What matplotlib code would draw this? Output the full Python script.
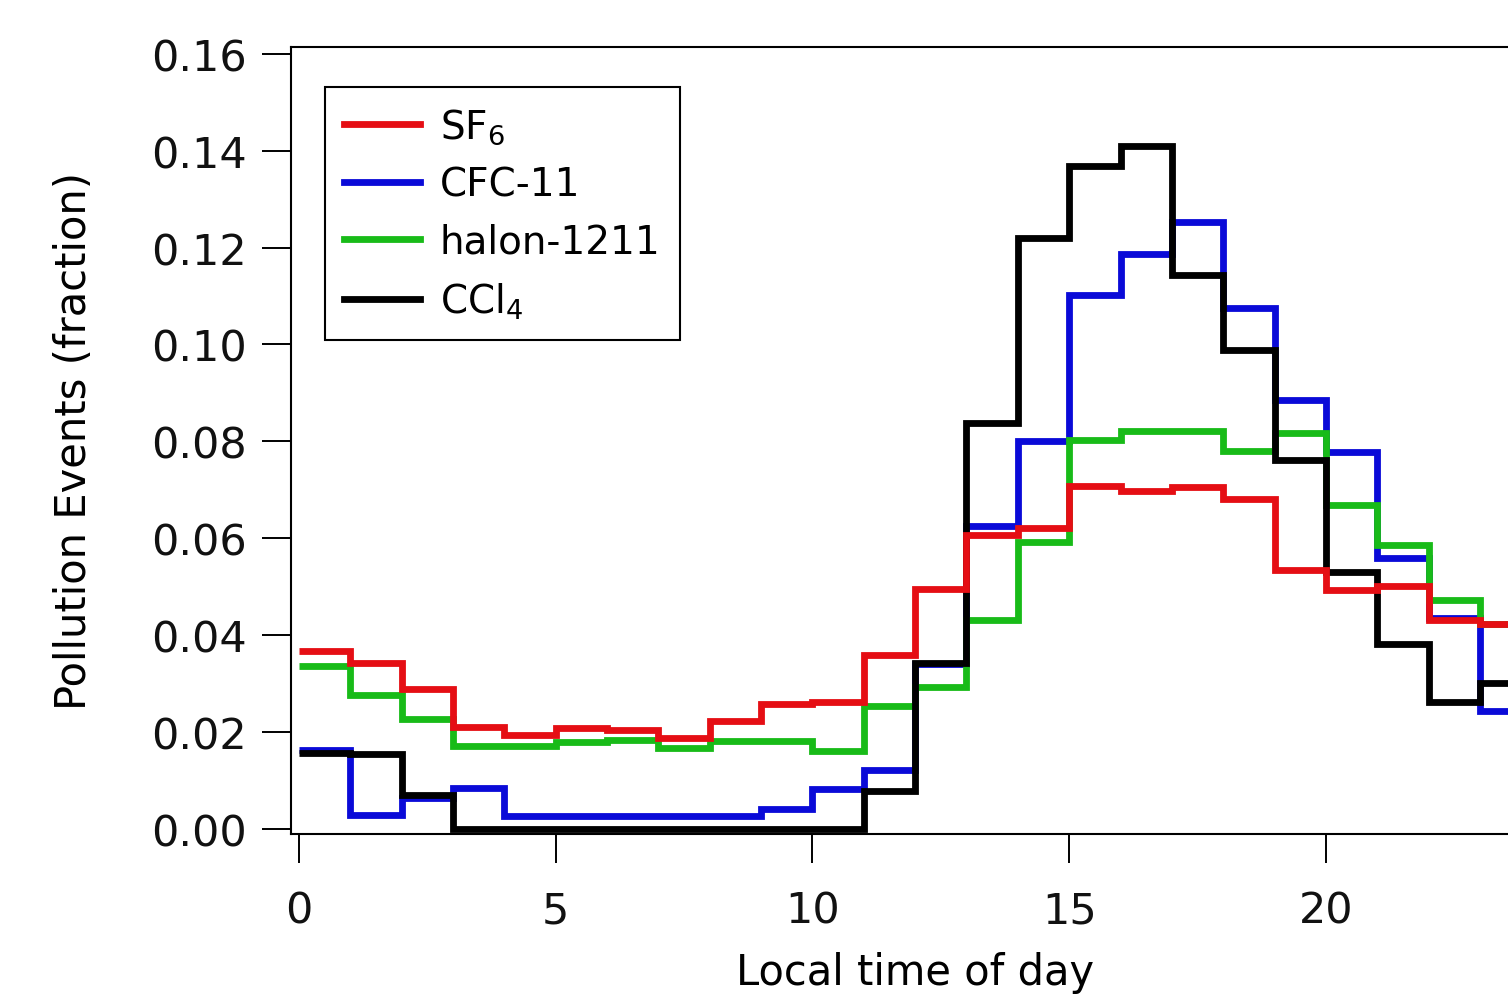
import matplotlib
matplotlib.use("Agg")
import matplotlib.pyplot as plt
import numpy as np
from matplotlib.lines import Line2D

hours = list(range(25))  # bin edges, local hour 0..24
sf6 = [0.0368, 0.0343, 0.0288, 0.0210, 0.0193, 0.0209, 0.0204, 0.0187,
       0.0222, 0.0258, 0.0263, 0.0359, 0.0495, 0.0607, 0.0621, 0.0708,
       0.0698, 0.0706, 0.0681, 0.0534, 0.0493, 0.0502, 0.0431, 0.0424]
cfc11 = [0.0164, 0.0028, 0.0065, 0.0084, 0.0027, 0.0027, 0.0027, 0.0027,
         0.0027, 0.0041, 0.0083, 0.0121, 0.0340, 0.0625, 0.0801, 0.1102,
         0.1187, 0.1252, 0.1076, 0.0885, 0.0778, 0.0559, 0.0435, 0.0243]
halon1211 = [0.0337, 0.0276, 0.0228, 0.0172, 0.0172, 0.0180, 0.0184, 0.0168,
             0.0182, 0.0182, 0.0162, 0.0253, 0.0294, 0.0431, 0.0592, 0.0802,
             0.0822, 0.0822, 0.0780, 0.0818, 0.0669, 0.0586, 0.0473, 0.0424]
ccl4 = [0.0157, 0.0155, 0.0070, 0.0, 0.0, 0.0, 0.0, 0.0,
        0.0, 0.0, 0.0, 0.0079, 0.0342, 0.0838, 0.1220, 0.1368,
        0.1409, 0.1143, 0.0988, 0.0762, 0.0530, 0.0381, 0.0263, 0.0302]

labels = ["SF$_6$", "CFC-11", "halon-1211", "CCl$_4$"]
colors = ["#e50e14", "#0a0ad8", "#18bb18", "#000000"]

plt.rcParams['font.family'] = ['DejaVu Sans']
W, H = 1508, 995
fig = plt.figure(figsize=(W / 100, H / 100), dpi=100)

ax_left, ax_right, ax_top, ax_bot = 291, 1539, 48, 835
ax = fig.add_axes([ax_left / W, 1 - ax_bot / H, (ax_right - ax_left) / W, (ax_bot - ax_top) / H])

series = [sf6, cfc11, halon1211, ccl4]
zorders = [5, 2, 3, 4]
LW = 4.9
for vals, lab, col, z in zip(series, labels, colors, zorders):
    h = ax.stairs(vals, hours, baseline=None, color=col, linewidth=LW,
                  label=lab, zorder=z)
    h.set_joinstyle('miter')
    h.set_capstyle('butt')

ax.set_xlim(-0.156, 24.15)
ax.set_ylim(-0.00103, 0.1614)
ax.set_xticks([0, 5, 10, 15, 20])
yt = np.arange(0, 0.161, 0.02)
ax.set_yticks(yt)
ax.set_yticklabels([f"{v:.2f}" for v in yt])

for s in ax.spines.values():
    s.set_linewidth(1.5)
ax.tick_params(axis='both', direction='out', length=21, width=1.4,
               labelsize=31, color='black', labelcolor='#111111')
ax.tick_params(axis='y', pad=11)
ax.tick_params(axis='x', pad=19)

ax.set_ylabel("Pollution Events (fraction)", fontsize=30, labelpad=40)
ax.set_xlabel("Local time of day", fontsize=30, labelpad=14)

proxy = [Line2D([], [], color=c, lw=LW) for c in colors]
leg = fig.legend(proxy, labels, loc='upper left',
                 bbox_to_anchor=(325 / W, 1 - 88 / H), bbox_transform=fig.transFigure,
                 fontsize=28, frameon=True, fancybox=False, framealpha=1,
                 edgecolor='black', handlelength=1.95, handletextpad=0.5,
                 labelspacing=0.5, borderpad=0.5, borderaxespad=0)
leg.get_frame().set_linewidth(1.5)

fig.savefig("out.png", dpi=100)
